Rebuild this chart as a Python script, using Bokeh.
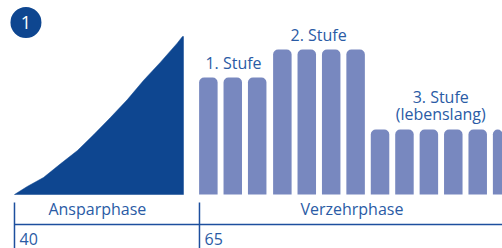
from bokeh.plotting import figure
from bokeh.models import Range1d
from bokeh.core.properties import value
from bokeh.embed import file_html
from bokeh.resources import INLINE

# Ansparphase: capital build-up (age, relative capital)
curve_age = [40.0, 41.72, 43.92, 46.22, 48.51, 50.72, 52.97, 55.23, 57.43, 59.73, 61.99, 62.70, 62.84, 62.84]
curve_val = [0, 8, 17, 30.7, 44, 60, 77, 94.7, 114, 132.3, 151.3, 158, 158, 0]

# Verzehrphase: payout bars (position in years, relative pension level)
bar_age = [66.2, 69.5, 72.8, 76.2, 79.5, 82.8, 86.1, 89.4, 92.7, 96.0, 99.3, 102.6, 105.9]
bar_val = [117, 117, 117, 145, 145, 145, 145, 65, 65, 65, 65, 65, 65]
bar_width = 2.5

stage_labels = ["1. Stufe", "2. Stufe", "3. Stufe", "(lebenslang)"]
stage_x = [69.6, 81.1, 97.6, 97.6]
stage_y = [131.5, 160.0, 97.5, 80.5]

phase_labels = ["Ansparphase", "Verzehrphase"]
phase_x = [51.2, 85.6]
phase_y = [-14.5, -14.5]

tick_ages = [40, 65]
tick_labels = ["40", "65"]
tick_label_y = [-44, -44]

DARK = "#0e4690"
BAR = "#7888bf"
TEXT = "#2a5ba5"
LINE = "#1d4f9e"
FONT = value("Open Sans")

p = figure(width=502, height=248, output_backend="svg", toolbar_location=None,
           x_range=Range1d(38.11, 105.95), y_range=Range1d(-54, 194),
           min_border=0)
p.axis.visible = False
p.grid.visible = False
p.outline_line_color = None
p.background_fill_color = "white"
p.border_fill_color = "white"

p.patch(curve_age, curve_val, fill_color=DARK, line_color=DARK, line_width=0.5)

p.vbar(x=bar_age, top=bar_val, bottom=0, width=bar_width, fill_color=BAR,
       line_color=None, border_radius=(5, 5, 0, 0))

p.text(x=stage_x, y=stage_y, text=stage_labels, text_font=FONT, text_font_size="16px",
       text_color=TEXT, text_align="center", text_baseline="alphabetic")

# phase annotation lines
p.segment(x0=tick_ages, y0=[-8, -8], x1=tick_ages, y1=[-54, -54], line_color=LINE, line_width=1.5)
p.segment(x0=[tick_ages[0]], y0=[-30], x1=[105.95], y1=[-30], line_color=LINE, line_width=1.5)

p.text(x=phase_x, y=phase_y, text=phase_labels, text_font=FONT, text_font_size="16px",
       text_color=TEXT, text_align="center", text_baseline="alphabetic")
p.text(x=[a + 0.68 for a in tick_ages], y=tick_label_y, text=tick_labels, text_font=FONT,
       text_font_size="16px", text_color=TEXT, text_align="left", text_baseline="alphabetic")

# badge
p.scatter(x=[41.55], y=[172], size=31, marker="circle", fill_color=DARK, line_color=None)
p.text(x=[41.55], y=[172], text=["1"], text_font=FONT, text_font_size="18px",
       text_color="white", text_align="center", text_baseline="middle")

open("out.html", "w").write(file_html(p, INLINE))
